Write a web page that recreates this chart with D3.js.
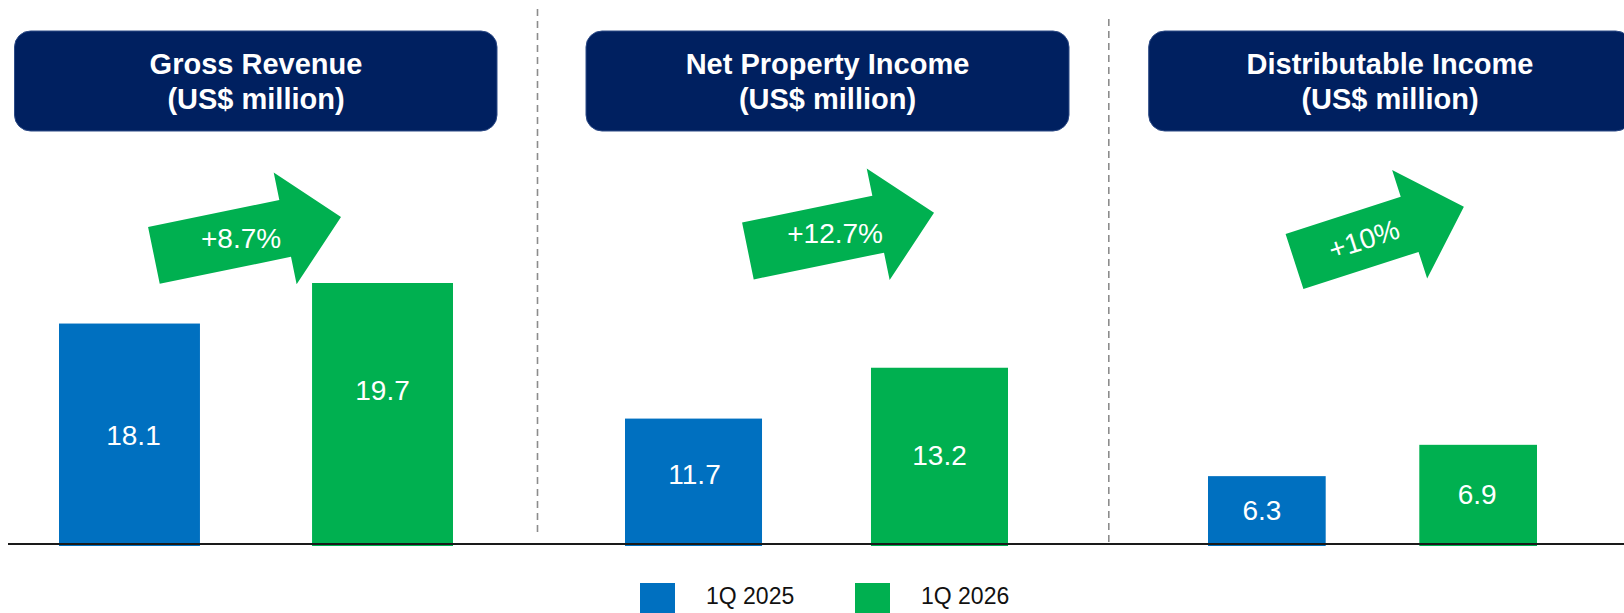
<!DOCTYPE html>
<html>
<head>
<meta charset="utf-8">
<script src="https://cdn.jsdelivr.net/npm/d3@7"></script>
<style>
  html, body { margin: 0; padding: 0; background: #fff; }
  svg { display: block; font-family: 'Liberation Sans', Arial, sans-serif; }
</style>
</head>
<body>
<svg id="chart" width="1624" height="613"></svg>
<script>
// DATA
const metrics = ['Gross Revenue', 'Net Property Income', 'Distributable Income'];
const unitLabel = '(US$ million)';
const periods = ['1Q 2025', '1Q 2026'];
const values2025 = [18.1, 11.7, 6.3];
const values2026 = [19.7, 13.2, 6.9];
const growthLabels = ['+8.7%', '+12.7%', '+10%'];
// value axis per panel (not zero based in the original)
const axisMin = [9.4, 8, 5];
const axisMax = [19.7, 15.7, 10];

// SETUP
const svg = d3.select('#chart'),
  baseY = 544,
  topY = 283,
  colors = { '1Q 2025': '#0070C0', '1Q 2026': '#00B050' },
  navy = '#002060';

// layout per panel; labelShift nudges the value labels like the original slide
const panels = [
  { box: [14.5, 497], bars: [59, 453], textX: 256,
    labelShift: [[4, 1], [0, -24]],
    arrow: { x: 153.9, y: 255.4, angle: -11.6, len: 191, label: 89, rotate: false } },
  { box: [586, 1069], bars: [625, 1008], textX: 827.5,
    labelShift: [[1, -7], [0, -1]],
    arrow: { x: 747.9, y: 251, angle: -11.6, len: 190, label: 89, rotate: false } },
  { box: [1148.7, 1631.7], bars: [1208, 1537], textX: 1390,
    labelShift: [[-5, 0], [-1, 0]],
    arrow: { x: 1294.5, y: 261.5, angle: -17.9, len: 178, label: 73, rotate: true } }
];

// DIVIDERS
const dividers = [
  { x: 537.5, y1: 9, y2: 536 },
  { x: 1108.8, y1: 19, y2: 546 }
];
svg.selectAll('.divider')
  .data(dividers)
  .enter()
  .append('line')
  .attr('class', 'divider')
  .attr('x1', d => d.x).attr('x2', d => d.x)
  .attr('y1', d => d.y1).attr('y2', d => d.y2)
  .attr('stroke', '#8c8c8c')
  .attr('stroke-width', 1.6)
  .attr('stroke-dasharray', '7,5');

// arrow outline in local coords (tail middle at 0,0 pointing right)
function arrowPath(len) {
  const shaft = 29, head = 57, headLen = 57;
  const p = d3.path();
  p.moveTo(0, -shaft);
  p.lineTo(len - headLen, -shaft);
  p.lineTo(len - headLen, -head);
  p.lineTo(len, 0);
  p.lineTo(len - headLen, head);
  p.lineTo(len - headLen, shaft);
  p.lineTo(0, shaft);
  p.closePath();
  return p.toString();
}

metrics.forEach(function (name, i) {
  const cfg = panels[i];
  const g = svg.append('g').attr('class', 'panel');

  // TITLE BOX
  g.append('rect')
    .attr('x', cfg.box[0])
    .attr('y', 31)
    .attr('width', cfg.box[1] - cfg.box[0])
    .attr('height', 100)
    .attr('rx', 16)
    .attr('fill', navy)
    .attr('stroke', '#2c4a86')
    .attr('stroke-width', 1);

  const title = g.append('text')
    .attr('x', cfg.textX)
    .attr('y', 74)
    .attr('text-anchor', 'middle')
    .attr('fill', '#fff')
    .style('font-size', '29px')
    .style('font-weight', 'bold');
  title.append('tspan').attr('x', cfg.textX).text(name);
  title.append('tspan').attr('x', cfg.textX).attr('dy', 34.5).text(unitLabel);

  // SCALES
  const x = d3.scaleBand()
    .domain(periods)
    .range(cfg.bars)
    .paddingInner(0.443)
    .paddingOuter(0);
  const y = d3.scaleLinear()
    .domain([axisMin[i], axisMax[i]])
    .range([baseY, topY]);

  const rows = [
    { period: periods[0], value: values2025[i], shift: cfg.labelShift[0] },
    { period: periods[1], value: values2026[i], shift: cfg.labelShift[1] }
  ];

  // BARS
  g.selectAll('.bar')
    .data(rows)
    .enter()
    .append('rect')
    .attr('class', 'bar')
    .attr('x', d => x(d.period))
    .attr('y', d => y(d.value))
    .attr('width', x.bandwidth())
    .attr('height', d => y(axisMin[i]) - y(d.value) + 2)
    .attr('fill', d => colors[d.period]);

  g.selectAll('.value')
    .data(rows)
    .enter()
    .append('text')
    .attr('class', 'value')
    .attr('x', d => x(d.period) + x.bandwidth() / 2 + d.shift[0])
    .attr('y', d => (y(d.value) + baseY) / 2 + 10 + d.shift[1])
    .attr('text-anchor', 'middle')
    .attr('fill', '#fff')
    .style('font-size', '28px')
    .text(d => d3.format('.1f')(d.value));

  // GROWTH ARROW
  const a = cfg.arrow;
  const ag = g.append('g')
    .attr('transform', 'translate(' + a.x + ',' + a.y + ') rotate(' + a.angle + ')');
  ag.append('path')
    .attr('d', arrowPath(a.len))
    .attr('fill', colors['1Q 2026']);

  const rad = a.angle * Math.PI / 180;
  const lx = a.x + a.label * Math.cos(rad),
    ly = a.y + a.label * Math.sin(rad);
  g.append('text')
    .attr('transform', 'translate(' + lx + ',' + ly + ')' + (a.rotate ? ' rotate(' + a.angle + ')' : ''))
    .attr('y', 10)
    .attr('text-anchor', 'middle')
    .attr('fill', '#fff')
    .style('font-size', '28px')
    .text(growthLabels[i]);
});

// BASELINE
svg.append('line')
  .attr('x1', 8).attr('x2', 1624)
  .attr('y1', baseY).attr('y2', baseY)
  .attr('stroke', '#1a1a1a')
  .attr('stroke-width', 1.8);

// LEGEND
const legendItems = [
  { label: periods[0], x: 640 },
  { label: periods[1], x: 855 }
];
const lg = svg.selectAll('.legend')
  .data(legendItems)
  .enter()
  .append('g')
  .attr('class', 'legend')
  .attr('transform', d => 'translate(' + d.x + ',583)');
lg.append('rect')
  .attr('width', 35)
  .attr('height', 35)
  .attr('fill', d => colors[d.label]);
lg.append('text')
  .attr('x', 66)
  .attr('y', 21)
  .attr('fill', '#111')
  .style('font-size', '23px')
  .text(d => d.label);
</script>
</body>
</html>
